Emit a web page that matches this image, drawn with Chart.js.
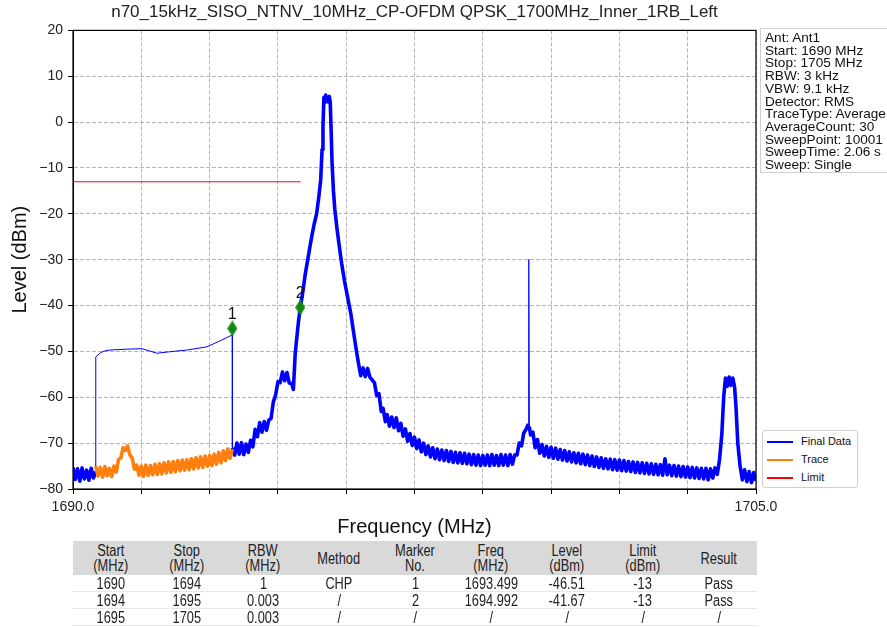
<!DOCTYPE html>
<html>
<head>
<meta charset="utf-8">
<script src="https://cdn.jsdelivr.net/npm/chart.js@4.4.1/dist/chart.umd.min.js"></script>
<style>
  html, body { margin: 0; padding: 0; background: #fff; }
  #wrap { position: relative; width: 887px; height: 627px; overflow: hidden; font-family: "Liberation Sans", Arial, sans-serif; color: #222; }
  #chart { position: absolute; left: 0; top: 0; }
  #info { position: absolute; left: 760px; top: 28px; width: 132px; height: 145px; box-sizing: border-box;
          border: 1px solid #cfcfcf; padding: 3px 0 0 4px; font-size: 13.6px; line-height: 12.7px; white-space: nowrap; color: #111; }
  #legend { position: absolute; left: 762px; top: 430px; width: 96px; height: 58px; box-sizing: border-box;
            border: 1px solid #d0d0d0; border-radius: 3px; background: #fff; padding: 1px 0 0 4px; font-size: 11px; color: #111; }
  #legend .item { height: 18px; line-height: 18px; white-space: nowrap; }
  #legend .swatch { display: inline-block; width: 26px; height: 2px; vertical-align: middle; margin-right: 8px; }
  #tbl { position: absolute; left: 73px; top: 541px; width: 684px; border-collapse: collapse; table-layout: fixed;
         font-family: "Liberation Sans", Arial, sans-serif; font-size: 16px; color: #222; }
  #tbl th { background: #d9d9d9; font-weight: normal; height: 34px; line-height: 15px; padding: 0; text-align: center; }
  #tbl td { height: 16px; line-height: 15px; padding: 0; text-align: center; border-bottom: 1px solid #e8e8e8; }
  #tbl span { display: inline-block; transform: scaleX(0.8); white-space: nowrap; }
</style>
</head>
<body>
<div id="wrap">
  <canvas id="chart" width="887" height="627"></canvas>
  <div id="info"></div>
  <div id="legend"></div>
  <table id="tbl"><thead><tr id="thead"></tr></thead><tbody id="tbody"></tbody></table>
</div>
<script>
const chartTitle = "n70_15kHz_SISO_NTNV_10MHz_CP-OFDM QPSK_1700MHz_Inner_1RB_Left";

// Final Data (blue): noisy sweep, channel-power segment 1690.5-1693.5, sweep again
const finalFreq = [
  1690.00, 1690.05, 1690.10, 1690.15, 1690.20, 1690.25, 1690.30, 1690.35, 1690.40, 1690.45, 1690.50,
  1690.50, 1690.60, 1690.70, 1690.81, 1691.20, 1691.51, 1691.65, 1691.84, 1692.10, 1692.50, 1692.94, 1693.23, 1693.50,
  1693.50, 1693.55, 1693.60, 1693.65, 1693.70, 1693.75, 1693.80, 1693.85, 1693.90, 1693.95,
  1694.00, 1694.05, 1694.10, 1694.15, 1694.20, 1694.25, 1694.30, 1694.35, 1694.40, 1694.45,
  1694.50, 1694.55, 1694.60, 1694.65, 1694.70, 1694.75, 1694.80, 1694.84, 1694.88, 1694.92,
  1694.96, 1695.00, 1695.05, 1695.10, 1695.15, 1695.20, 1695.25, 1695.30, 1695.35, 1695.40,
  1695.44, 1695.47, 1695.49, 1695.51, 1695.53, 1695.55, 1695.57, 1695.59, 1695.61, 1695.63,
  1695.65, 1695.67, 1695.69, 1695.72, 1695.75, 1695.80, 1695.85, 1695.90, 1695.96, 1696.03,
  1696.10, 1696.15, 1696.21, 1696.27, 1696.32, 1696.37, 1696.42, 1696.47, 1696.52, 1696.57,
  1696.62, 1696.67, 1696.72, 1696.77, 1696.81, 1696.86, 1696.90, 1696.95, 1697.00, 1697.05,
  1697.10, 1697.15, 1697.20, 1697.25, 1697.30, 1697.35, 1697.40, 1697.45, 1697.50, 1697.55,
  1697.60, 1697.65, 1697.70, 1697.75, 1697.80, 1697.85, 1697.90, 1697.95, 1698.00, 1698.05,
  1698.10, 1698.15, 1698.20, 1698.25, 1698.30, 1698.35, 1698.40, 1698.45, 1698.50, 1698.55,
  1698.60, 1698.65, 1698.70, 1698.75, 1698.80, 1698.85, 1698.90, 1698.95, 1699.00, 1699.05,
  1699.10, 1699.15, 1699.20, 1699.25, 1699.30, 1699.35, 1699.40, 1699.45, 1699.50, 1699.55,
  1699.60, 1699.65, 1699.70, 1699.75, 1699.80, 1699.85, 1699.90, 1699.95,
  1700.00, 1700.01, 1700.02, 1700.05,
  1700.10, 1700.15, 1700.20, 1700.25, 1700.30, 1700.35, 1700.40, 1700.45, 1700.50, 1700.55,
  1700.60, 1700.65, 1700.70, 1700.75, 1700.80, 1700.85, 1700.90, 1700.95, 1701.00, 1701.05,
  1701.10, 1701.15, 1701.20, 1701.25, 1701.30, 1701.35, 1701.40, 1701.45, 1701.50, 1701.55,
  1701.60, 1701.65, 1701.70, 1701.75, 1701.80, 1701.85, 1701.90, 1701.95, 1702.00, 1702.05,
  1702.10, 1702.15, 1702.20, 1702.25, 1702.30, 1702.35, 1702.40, 1702.45, 1702.50, 1702.55,
  1702.60, 1702.65, 1702.70, 1702.75, 1702.80, 1702.85, 1702.90, 1702.95, 1703.00, 1703.05,
  1703.10, 1703.15, 1703.20, 1703.25, 1703.30, 1703.35, 1703.40, 1703.45, 1703.50, 1703.55,
  1703.60, 1703.65, 1703.70, 1703.75, 1703.80, 1703.85, 1703.90, 1703.95, 1704.00, 1704.05,
  1704.10, 1704.15, 1704.20, 1704.25, 1704.29, 1704.33, 1704.37, 1704.41, 1704.45, 1704.49,
  1704.53, 1704.56, 1704.60, 1704.65, 1704.70, 1704.75, 1704.80, 1704.85, 1704.90, 1704.95, 1705.00
];
const finalLevel = [
  -75.3, -77.9, -75.6, -78.3, -75.4, -77.8, -75.9, -78.1, -75.5, -77.6, -76.2,
  -51.2, -50.3, -49.9, -49.7, -49.5, -49.4, -49.8, -50.4, -50.1, -49.7, -49.0, -47.7, -46.4,
  -71.0, -72.6, -70.0, -72.4, -69.9, -72.5, -70.2, -72.0, -69.4, -70.8,
  -67.0, -68.6, -65.5, -67.6, -65.3, -67.2, -65.0, -64.6, -61.0, -59.5,
  -56.6, -56.8, -54.5, -56.4, -54.6, -56.9, -57.0, -58.3, -50.5, -46.5,
  -42.8, -40.0, -36.8, -33.2, -30.3, -27.4, -24.6, -22.1, -20.0, -16.2,
  -12.6, -6.0, -1.0, 5.4, 4.2, 5.9, 4.6, 5.2, 4.4, 5.6,
  4.2, -2.0, -9.0, -15.0, -19.0, -23.4, -27.2, -30.8, -34.5, -38.1,
  -41.7, -45.0, -49.0, -52.6, -55.3, -53.6, -55.5, -53.7, -55.6, -56.2,
  -56.8, -59.6, -59.2, -63.1, -62.4, -65.3, -63.8, -66.3, -64.3, -66.6,
  -64.5, -67.3, -65.7, -68.5, -66.9, -69.6, -67.9, -70.5, -68.7, -71.2,
  -69.3, -71.9, -70.0, -72.5, -70.6, -73.0, -71.0, -73.4, -71.3, -73.6,
  -71.5, -73.8, -71.6, -74.0, -71.8, -74.2, -72.0, -74.3, -72.1, -74.4,
  -72.2, -74.5, -72.4, -74.7, -72.5, -74.8, -72.6, -74.9, -72.7, -74.8,
  -72.6, -74.9, -72.5, -74.8, -72.7, -74.9, -72.5, -74.8, -72.6, -74.9,
  -72.5, -74.6, -72.6, -72.6, -70.0, -70.6, -67.8, -67.0,
  -65.8, -30.0, -66.4, -68.2,
  -67.6, -71.0, -69.2, -72.2, -70.3, -72.8, -70.7, -73.1, -70.9, -73.3,
  -71.1, -73.5, -71.4, -73.7, -71.6, -73.9, -71.9, -74.1, -72.1, -74.3,
  -72.2, -74.5, -72.4, -74.7, -72.6, -74.9, -72.8, -75.1, -73.0, -75.3,
  -73.2, -75.5, -73.4, -75.6, -73.5, -75.8, -73.6, -75.9, -73.7, -76.0,
  -73.8, -76.1, -74.0, -76.2, -74.1, -76.4, -74.2, -76.5, -74.3, -76.6,
  -74.4, -76.7, -74.5, -76.8, -74.6, -76.9, -74.7, -77.0, -73.4, -76.9,
  -74.8, -77.1, -74.9, -77.2, -75.0, -77.3, -75.1, -77.4, -75.2, -77.5,
  -75.3, -77.6, -75.4, -77.7, -75.5, -77.8, -75.5, -78.0, -75.6, -77.6,
  -75.4, -76.8, -73.5, -68.0, -60.0, -55.8, -57.6, -55.6, -57.4, -55.8,
  -57.8, -62.0, -70.0, -75.0, -78.0, -75.8, -78.4, -76.2, -78.6, -76.4, -78.2
];

// Trace (orange) under the channel-power segment
const traceFreq = [
  1690.50, 1690.55, 1690.60, 1690.65, 1690.70, 1690.75, 1690.80, 1690.85, 1690.90, 1690.95,
  1691.00, 1691.05, 1691.10, 1691.15, 1691.20, 1691.25, 1691.30, 1691.35, 1691.40, 1691.45,
  1691.50, 1691.55, 1691.60, 1691.65, 1691.70, 1691.75, 1691.80, 1691.85, 1691.90, 1691.95,
  1692.00, 1692.05, 1692.10, 1692.15, 1692.20, 1692.25, 1692.30, 1692.35, 1692.40, 1692.45,
  1692.50, 1692.55, 1692.60, 1692.65, 1692.70, 1692.75, 1692.80, 1692.85, 1692.90, 1692.95,
  1693.00, 1693.05, 1693.10, 1693.15, 1693.20, 1693.25, 1693.30, 1693.35, 1693.40, 1693.45, 1693.50
];
const traceLevel = [
  -75.0, -77.2, -75.3, -77.4, -75.1, -77.1, -75.5, -77.3, -75.0, -76.3,
  -73.6, -73.2, -71.0, -71.6, -70.6, -72.6, -73.2, -75.7, -74.8, -77.0,
  -75.0, -77.2, -74.8, -77.0, -74.9, -76.9, -74.6, -76.8, -74.5, -76.7,
  -74.3, -76.5, -74.1, -76.4, -74.0, -76.2, -73.8, -76.0, -73.7, -75.9,
  -73.6, -75.8, -73.4, -75.6, -73.2, -75.4, -73.0, -75.3, -72.8, -75.0,
  -72.7, -74.9, -72.4, -74.6, -72.0, -74.3, -71.7, -73.8, -71.3, -73.3, -71.3
];

const limitFreq = [1690, 1695];
const limitLevel = [-13, -13];

const markerFreq = [1693.499, 1694.992];
const markerLevel = [-45.0, -40.4];
const markerLabels = ["1", "2"];

const xTickLabels = ["1690.0", "1705.0"];
const yTicks = [20, 10, 0, -10, -20, -30, -40, -50, -60, -70, -80];

const infoLines = ["Ant: Ant1", "Start: 1690 MHz", "Stop: 1705 MHz", "RBW: 3 kHz", "VBW: 9.1 kHz",
  "Detector: RMS", "TraceType: Average", "AverageCount: 30", "SweepPoint: 10001", "SweepTime: 2.06 s", "Sweep: Single"];

const legendNames = ["Final Data", "Trace", "Limit"];
const legendColors = ["#0000ff", "#ff7f0e", "#ff0000"];

const tableHeader = ["Start<br>(MHz)", "Stop<br>(MHz)", "RBW<br>(MHz)", "Method", "Marker<br>No.",
  "Freq<br>(MHz)", "Level<br>(dBm)", "Limit<br>(dBm)", "Result"];
const tableRows = [
  ["1690", "1694", "1", "CHP", "1", "1693.499", "-46.51", "-13", "Pass"],
  ["1694", "1695", "0.003", "/", "2", "1694.992", "-41.67", "-13", "Pass"],
  ["1695", "1705", "0.003", "/", "/", "/", "/", "/", "/"]
];

const chpStart = 1690.5, chpStop = 1693.5;
const spikeStart = 1700.0, spikeStop = 1700.02;

// side panels
document.getElementById("info").innerHTML = infoLines.map(s => "<div>" + s + "</div>").join("");
document.getElementById("legend").innerHTML = legendNames.map((n, i) =>
  '<div class="item"><span class="swatch" style="background:' + legendColors[i] + '"></span>' + n + "</div>").join("");
document.getElementById("thead").innerHTML = tableHeader.map(h => "<th><span>" + h + "</span></th>").join("");
document.getElementById("tbody").innerHTML = tableRows.map(r =>
  "<tr>" + r.map(c => "<td><span>" + c + "</span></td>").join("") + "</tr>").join("");

function toPoints(xs, ys) {
  return xs.map((x, i) => ({ x: x, y: ys[i] }));
}

function makeDiamond(w, h, color) {
  const c = document.createElement("canvas");
  c.width = w; c.height = h;
  const g = c.getContext("2d");
  g.fillStyle = color;
  g.beginPath();
  g.moveTo(w / 2, 0); g.lineTo(w, h / 2); g.lineTo(w / 2, h); g.lineTo(0, h / 2);
  g.closePath();
  g.fill();
  return c;
}

const frame = {
  id: "frame",
  afterDraw(chart) {
    const a = chart.chartArea, ctx = chart.ctx;
    ctx.save();
    ctx.strokeStyle = "#000";
    ctx.lineWidth = 1.2;
    ctx.strokeRect(a.left, a.top, a.right - a.left, a.bottom - a.top);
    ctx.restore();
  }
};

const markerText = {
  id: "markerText",
  afterDatasetsDraw(chart) {
    const ctx = chart.ctx;
    const meta = chart.getDatasetMeta(0);
    ctx.save();
    ctx.font = "16px 'Liberation Sans', Arial, sans-serif";
    ctx.fillStyle = "#111";
    ctx.textAlign = "center";
    ctx.textBaseline = "bottom";
    meta.data.forEach((pt, i) => ctx.fillText(markerLabels[i], pt.x, pt.y - 6));
    ctx.restore();
  }
};

const fontFamily = "'Liberation Sans', Arial, sans-serif";
const thick = 3.6;

new Chart(document.getElementById("chart"), {
  type: "line",
  data: {
    datasets: [
      { label: "Marker", data: toPoints(markerFreq, markerLevel), showLine: false,
        pointStyle: makeDiamond(10, 16, "#118811"), pointRadius: 6 },
      { label: "Limit", data: toPoints(limitFreq, limitLevel), borderColor: legendColors[2],
        borderWidth: 1.2, pointRadius: 0 },
      { label: "Trace", data: toPoints(traceFreq, traceLevel), borderColor: legendColors[1],
        borderWidth: thick, pointRadius: 0 },
      { label: "Final Data", data: toPoints(finalFreq, finalLevel), borderColor: legendColors[0],
        borderWidth: thick, pointRadius: 0,
        segment: {
          borderWidth: c => {
            const a = c.p0.parsed.x, b = c.p1.parsed.x;
            if (a >= chpStart && b <= chpStop) return 1;
            if (a >= spikeStart && b <= spikeStop) return 1.3;
            return thick;
          }
        } }
    ]
  },
  options: {
    responsive: false,
    animation: false,
    devicePixelRatio: 1,
    layout: { padding: { left: 0, right: 131, top: 0, bottom: 88 } },
    elements: { line: { tension: 0, borderJoinStyle: "round" } },
    plugins: {
      legend: { display: false },
      tooltip: { enabled: false },
      title: {
        display: true, text: chartTitle, fullSize: false, color: "#222",
        font: { family: fontFamily, size: 17, weight: "normal" },
        padding: { top: 2, bottom: 8 }
      }
    },
    scales: {
      x: {
        type: "linear", min: 1690, max: 1705,
        afterFit: s => { s.height = 50; },
        ticks: {
          stepSize: 1.5, autoSkip: false, maxRotation: 0, padding: 5, color: "#222",
          font: { family: fontFamily, size: 14 },
          callback: v => {
            if (Math.abs(v - 1690) < 1e-6) return xTickLabels[0];
            if (Math.abs(v - 1705) < 1e-6) return xTickLabels[1];
            return "";
          }
        },
        grid: { color: "#b5b5b5", lineWidth: 1, tickLength: 5, tickColor: "#000", tickBorderDash: [] },
        border: { color: "#000", width: 1, dash: [4, 2] },
        title: { display: true, text: "Frequency (MHz)", color: "#111",
                 font: { family: fontFamily, size: 20 }, padding: 0 }
      },
      y: {
        min: yTicks[yTicks.length - 1], max: yTicks[0],
        afterFit: s => { s.width = 73; },
        afterBuildTicks: s => { s.ticks = yTicks.map(v => ({ value: v })); },
        ticks: {
          padding: 5, color: "#222", font: { family: fontFamily, size: 14 },
          callback: v => String(v).replace("-", "\u2212")
        },
        grid: { color: "#b5b5b5", lineWidth: 1, tickLength: 5, tickColor: "#000", tickBorderDash: [] },
        border: { color: "#000", width: 1, dash: [4, 2] },
        title: { display: true, text: "Level (dBm)", color: "#111",
                 font: { family: fontFamily, size: 20 }, padding: { top: 8, bottom: 0 } }
      }
    }
  },
  plugins: [frame, markerText]
});
</script>
</body>
</html>
